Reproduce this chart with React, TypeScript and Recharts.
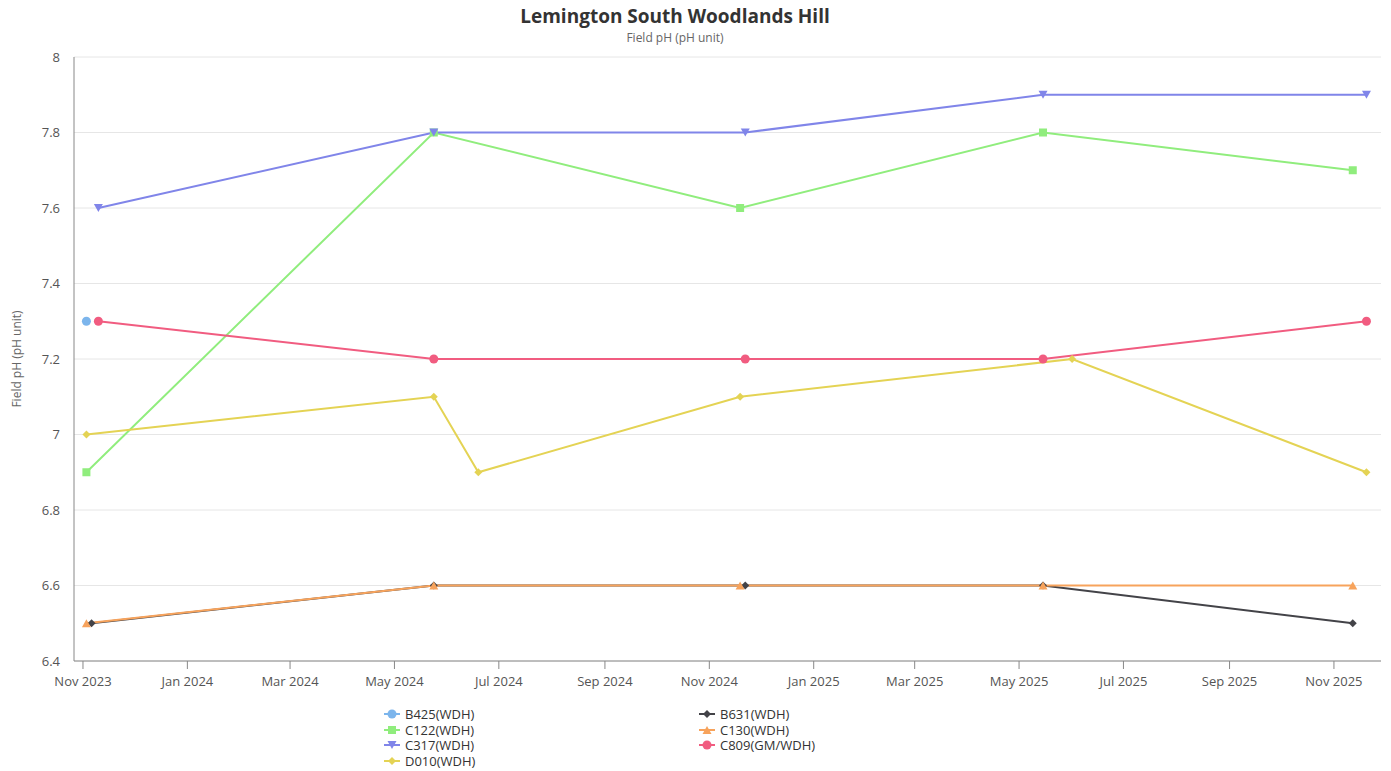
import { CartesianGrid, Line, LineChart, XAxis, YAxis } from "recharts";

const b425 = [{ date: "2023-11-03", value: 7.3 }];

const c122 = [
  { date: "2023-11-03", value: 6.9 },
  { date: "2024-05-24", value: 7.8 },
  { date: "2024-11-19", value: 7.6 },
  { date: "2025-05-15", value: 7.8 },
  { date: "2025-11-12", value: 7.7 },
];

const c317 = [
  { date: "2023-11-10", value: 7.6 },
  { date: "2024-05-24", value: 7.8 },
  { date: "2024-11-22", value: 7.8 },
  { date: "2025-05-15", value: 7.9 },
  { date: "2025-11-20", value: 7.9 },
];

const d010 = [
  { date: "2023-11-03", value: 7.0 },
  { date: "2024-05-24", value: 7.1 },
  { date: "2024-06-19", value: 6.9 },
  { date: "2024-11-19", value: 7.1 },
  { date: "2025-06-01", value: 7.2 },
  { date: "2025-11-20", value: 6.9 },
];

const b631 = [
  { date: "2023-11-06", value: 6.5 },
  { date: "2024-05-24", value: 6.6 },
  { date: "2024-11-22", value: 6.6 },
  { date: "2025-05-15", value: 6.6 },
  { date: "2025-11-12", value: 6.5 },
];

const c130 = [
  { date: "2023-11-03", value: 6.5 },
  { date: "2024-05-24", value: 6.6 },
  { date: "2024-11-19", value: 6.6 },
  { date: "2025-05-15", value: 6.6 },
  { date: "2025-11-12", value: 6.6 },
];

const c809 = [
  { date: "2023-11-10", value: 7.3 },
  { date: "2024-05-24", value: 7.2 },
  { date: "2024-11-22", value: 7.2 },
  { date: "2025-05-15", value: 7.2 },
  { date: "2025-11-20", value: 7.3 },
];

const xTickDates = [
  "2023-11-01", "2024-01-01", "2024-03-01", "2024-05-01", "2024-07-01",
  "2024-09-01", "2024-11-01", "2025-01-01", "2025-03-01", "2025-05-01",
  "2025-07-01", "2025-09-01", "2025-11-01",
];
const yTicks = [6.4, 6.6, 6.8, 7, 7.2, 7.4, 7.6, 7.8, 8];
const months = ["Jan", "Feb", "Mar", "Apr", "May", "Jun", "Jul", "Aug", "Sep", "Oct", "Nov", "Dec"];

type Shape = "circle" | "square" | "triangle" | "triangle-down" | "diamond";

const series: { name: string; color: string; shape: Shape; data: { date: string; value: number }[] }[] = [
  { name: "B425(WDH)", color: "#7cb5ec", shape: "circle", data: b425 },
  { name: "C122(WDH)", color: "#90ed7d", shape: "square", data: c122 },
  { name: "C317(WDH)", color: "#8085e9", shape: "triangle-down", data: c317 },
  { name: "D010(WDH)", color: "#e4d354", shape: "diamond", data: d010 },
  { name: "B631(WDH)", color: "#434348", shape: "diamond", data: b631 },
  { name: "C130(WDH)", color: "#f7a35c", shape: "triangle", data: c130 },
  { name: "C809(GM/WDH)", color: "#f15c80", shape: "circle", data: c809 },
];

const ts = (d: string) => Date.parse(d + "T00:00:00Z");
const fmt = (t: number) => {
  const d = new Date(t);
  return `${months[d.getUTCMonth()]} ${d.getUTCFullYear()}`;
};

const font = "'Open Sans', 'Noto Sans', sans-serif";

function Marker({ cx, cy, shape, color }: { cx: number; cy: number; shape: Shape; color: string }) {
  if (cx == null || cy == null) return null;
  switch (shape) {
    case "square":
      return <rect x={cx - 4} y={cy - 4} width={8} height={8} fill={color} />;
    case "triangle":
      return <path d={`M${cx},${cy - 4} L${cx + 4.5},${cy + 4} L${cx - 4.5},${cy + 4} Z`} fill={color} />;
    case "triangle-down":
      return <path d={`M${cx - 4.5},${cy - 4} L${cx + 4.5},${cy - 4} L${cx},${cy + 4} Z`} fill={color} />;
    case "diamond":
      return <path d={`M${cx},${cy - 4} L${cx + 4},${cy} L${cx},${cy + 4} L${cx - 4},${cy} Z`} fill={color} />;
    default:
      return <circle cx={cx} cy={cy} r={4.5} fill={color} />;
  }
}

function LegendItem({ s }: { s: (typeof series)[number] }) {
  return (
    <div style={{ display: "flex", alignItems: "center", height: 15.7 }}>
      <svg width={16} height={12} style={{ marginRight: 5 }}>
        <line x1={0} x2={16} y1={6} y2={6} stroke={s.color} strokeWidth={2} />
        <Marker cx={8} cy={6} shape={s.shape} color={s.color} />
      </svg>
      <span>{s.name}</span>
    </div>
  );
}

export default function App() {
  const left = series.slice(0, 4);
  const right = series.slice(4);
  return (
    <div style={{ position: "absolute", left: 0, top: 0, width: 1391, height: 771, background: "#fff", fontFamily: font }}>
      <div style={{ position: "absolute", top: 3, left: 0, width: 1350, textAlign: "center", fontSize: 19, fontWeight: 700, color: "#333" }}>
        Lemington South Woodlands Hill
      </div>
      <div style={{ position: "absolute", top: 29, left: 0, width: 1350, textAlign: "center", fontSize: 12, color: "#666" }}>
        Field pH (pH unit)
      </div>
      <LineChart width={1391} height={771} margin={{ top: 57, right: 10, bottom: 70, left: 34 }} style={{ position: "absolute", left: 0, top: 0 }}>
        <CartesianGrid vertical={false} stroke="#e6e6e6" />
        <XAxis
          type="number"
          dataKey="t"
          scale="time"
          domain={[Date.UTC(2023, 9, 26, 18), Date.UTC(2025, 10, 28, 12)]}
          ticks={xTickDates.map(ts)}
          tickFormatter={fmt}
          allowDataOverflow
          height={40}
          tickSize={8}
          tickMargin={8}
          stroke="#888"
          tick={{ fill: "#555", fontSize: 13, fontFamily: font }}
        />
        <YAxis
          type="number"
          domain={[6.4, 8]}
          ticks={yTicks}
          width={40}
          tickLine={false}
          tickMargin={8}
          stroke="#888"
          tick={{ fill: "#555", fontSize: 13, fontFamily: font }}
        />
        {series.map((s) => (
          <Line
            key={s.name}
            data={s.data.map((p) => ({ t: ts(p.date), value: p.value }))}
            dataKey="value"
            name={s.name}
            stroke={s.color}
            strokeWidth={2}
            isAnimationActive={false}
            dot={(p: any) => <Marker key={p.index} cx={p.cx} cy={p.cy} shape={s.shape} color={s.color} />}
            activeDot={false}
          />
        ))}
      </LineChart>
      <svg width={30} height={771} style={{ position: "absolute", left: 0, top: 0 }}>
        <text transform="translate(21,359) rotate(-90)" textAnchor="middle" fill="#666" fontSize={12} fontFamily={font}>
          Field pH (pH unit)
        </text>
      </svg>
      <div style={{ position: "absolute", top: 706, left: 384, fontSize: 13, color: "#333" }}>
        {left.map((s) => <LegendItem key={s.name} s={s} />)}
      </div>
      <div style={{ position: "absolute", top: 706, left: 699, fontSize: 13, color: "#333" }}>
        {right.map((s) => <LegendItem key={s.name} s={s} />)}
      </div>
    </div>
  );
}
